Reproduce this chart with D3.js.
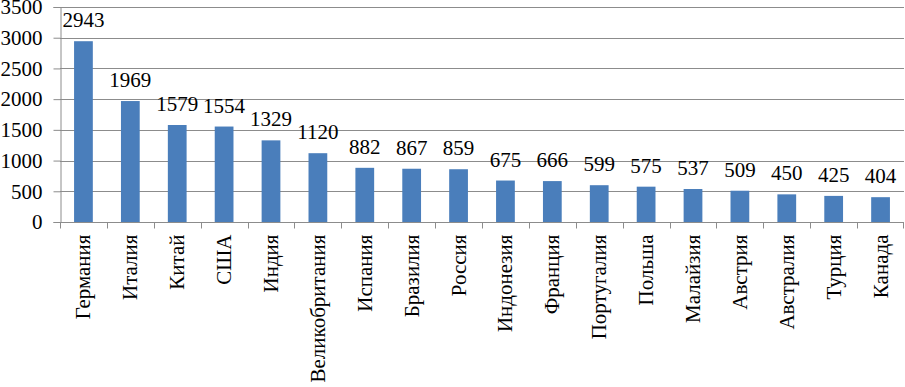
<!DOCTYPE html>
<html>
<head>
<meta charset="utf-8">
<script src="https://cdn.jsdelivr.net/npm/d3@7"></script>
<style>
  body { margin: 0; background: #fff; }
  svg text { font-family: 'Liberation Serif' !important; font-size: 21px !important; fill: #000; }
</style>
</head>
<body>
<div id="chart"></div>
<script>
let countries = ['Германия', 'Италия', 'Китай', 'США', 'Индия', 'Великобритания', 'Испания',
  'Бразилия', 'Россия', 'Индонезия', 'Франция', 'Португалия', 'Польша', 'Малайзия',
  'Австрия', 'Австралия', 'Турция', 'Канада'];
let values = [2943, 1969, 1579, 1554, 1329, 1120, 882, 867, 859, 675, 666, 599, 575, 537, 509, 450, 425, 404];
let yTicks = [0, 500, 1000, 1500, 2000, 2500, 3000, 3500];

let data = countries.map((c, i) => ({ key: c, value: values[i] }));

let W = 905, H = 387;
let margin = { top: 7, right: 1, bottom: 165, left: 60 };
let width = W - margin.left - margin.right;
let height = H - margin.top - margin.bottom;

let svg = d3.select('#chart').append('svg')
  .attr('width', W)
  .attr('height', H);

let g = svg.append('g')
  .attr('transform', `translate(${margin.left}, ${margin.top})`);

let xScale = d3.scaleBand()
  .domain(countries)
  .range([0, width])
  .paddingInner(0.6)
  .paddingOuter(0.3);
let yScale = d3.scaleLinear()
  .domain([0, 3500])
  .range([height, 0]);

// gridlines
g.append('g')
  .selectAll('line')
  .data(yTicks.slice(1))
  .join('line')
  .attr('x1', 0)
  .attr('x2', width)
  .attr('y1', d => Math.round(yScale(d)) + 0.5)
  .attr('y2', d => Math.round(yScale(d)) + 0.5)
  .attr('stroke', '#8c8c8c')
  .attr('stroke-width', 1);

// bars
g.append('g')
  .selectAll('rect')
  .data(data)
  .join('rect')
  .attr('x', d => xScale(d.key))
  .attr('width', xScale.bandwidth())
  .attr('y', d => yScale(d.value))
  .attr('height', d => height - yScale(d.value))
  .attr('fill', '#4a7ebb');

// value labels
g.append('g')
  .selectAll('text')
  .data(data)
  .join('text')
  .attr('x', d => xScale(d.key) + xScale.bandwidth() / 2)
  .attr('y', d => yScale(d.value) - 14)
  .attr('text-anchor', 'middle')
  .text(d => d.value);

// y axis
let yAxis = d3.axisLeft(yScale)
  .tickValues(yTicks)
  .tickSize(7)
  .tickPadding(11)
  .tickFormat(d3.format('d'));
let yG = g.append('g')
  .attr('transform', 'translate(0.5,0)')
  .call(yAxis);
yG.selectAll('path, line').attr('stroke', '#8c8c8c');

// x axis: ticks between categories
let xG = g.append('g')
  .attr('transform', `translate(0, ${height + 0.5})`);
xG.append('line')
  .attr('x1', 0).attr('x2', width)
  .attr('stroke', '#8c8c8c');
let step = xScale.step();
xG.selectAll('.tick')
  .data(countries)
  .join('line')
  .attr('class', 'tick')
  .attr('x1', d => Math.round(xScale(d) - 0.3 * step) + 0.5)
  .attr('x2', d => Math.round(xScale(d) - 0.3 * step) + 0.5)
  .attr('y1', 0).attr('y2', 6)
  .attr('stroke', '#8c8c8c');
xG.append('line')
  .attr('x1', width - 0.5).attr('x2', width - 0.5)
  .attr('y1', 0).attr('y2', 6)
  .attr('stroke', '#8c8c8c');

xG.selectAll('.lbl')
  .data(countries)
  .join('text')
  .attr('class', 'lbl')
  .attr('transform', d => `translate(${xScale(d) + xScale.bandwidth() / 2 + 7}, 12) rotate(-90)`)
  .attr('text-anchor', 'end')
  .text(d => d);
</script>
</body>
</html>
